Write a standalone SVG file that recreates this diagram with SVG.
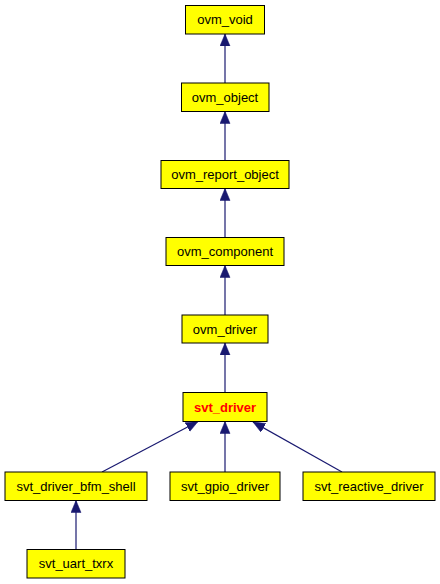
<svg xmlns="http://www.w3.org/2000/svg" width="440" height="584" viewBox="0 0 440 584">
<style>
.box{fill:#ffff00;stroke:#000000;stroke-width:1}
.lbl{font-family:"Liberation Sans",Arial,sans-serif;font-size:13px;fill:#000000;text-anchor:middle}
.cur{fill:#ff0000;font-weight:bold}
.edge{stroke:#191970;stroke-width:1.2;fill:none}
</style>
<defs>
<marker id="arr" markerUnits="userSpaceOnUse" markerWidth="13" markerHeight="11" refX="12" refY="5" orient="auto">
<path d="M0,0 L12,5 L0,10 z" fill="#191970" stroke="#191970" stroke-width="0.5"/>
</marker>
</defs>
<rect width="440" height="584" fill="#ffffff"/>
<g id="connectors">
<path class="edge" d="M225,83 L225,34" marker-end="url(#arr)"/>
<path class="edge" d="M225,160.5 L225,111.5" marker-end="url(#arr)"/>
<path class="edge" d="M225,237.5 L225,188.5" marker-end="url(#arr)"/>
<path class="edge" d="M225,315 L225,265.5" marker-end="url(#arr)"/>
<path class="edge" d="M225,392.5 L225,343" marker-end="url(#arr)"/>
<path class="edge" d="M102,472 L198,421.5" marker-end="url(#arr)"/>
<path class="edge" d="M225,472 L225,421.5" marker-end="url(#arr)"/>
<path class="edge" d="M342,472 L253,422" marker-end="url(#arr)"/>
<path class="edge" d="M76,549.5 L76,500.5" marker-end="url(#arr)"/>
</g>
<g id="ovm_void"><rect class="box" x="185.5" y="5.5" width="79" height="28.5"/><text class="lbl" x="225" y="24">ovm_void</text></g>
<g id="ovm_object"><rect class="box" x="181.5" y="83" width="87.5" height="28.5"/><text class="lbl" x="225" y="101.5">ovm_object</text></g>
<g id="ovm_report_object"><rect class="box" x="161" y="160.5" width="128" height="28"/><text class="lbl" x="225" y="179">ovm_report_object</text></g>
<g id="ovm_component"><rect class="box" x="166" y="237.5" width="118" height="28"/><text class="lbl" x="225" y="256">ovm_component</text></g>
<g id="ovm_driver"><rect class="box" x="182" y="315" width="86" height="28"/><text class="lbl" x="225" y="333.5">ovm_driver</text></g>
<g id="svt_driver"><rect class="box" x="183" y="392.5" width="84" height="29"/><text class="lbl cur" x="225" y="411.5">svt_driver</text></g>
<g id="svt_driver_bfm_shell"><rect class="box" x="5" y="472" width="142" height="28.5"/><text class="lbl" x="76" y="490.5">svt_driver_bfm_shell</text></g>
<g id="svt_gpio_driver"><rect class="box" x="170" y="472" width="110" height="28.5"/><text class="lbl" x="225" y="490.5">svt_gpio_driver</text></g>
<g id="svt_reactive_driver"><rect class="box" x="303" y="472" width="132" height="28.5"/><text class="lbl" x="369" y="490.5">svt_reactive_driver</text></g>
<g id="svt_uart_txrx"><rect class="box" x="27" y="549.5" width="98" height="28.5"/><text class="lbl" x="76" y="568">svt_uart_txrx</text></g>
</svg>
